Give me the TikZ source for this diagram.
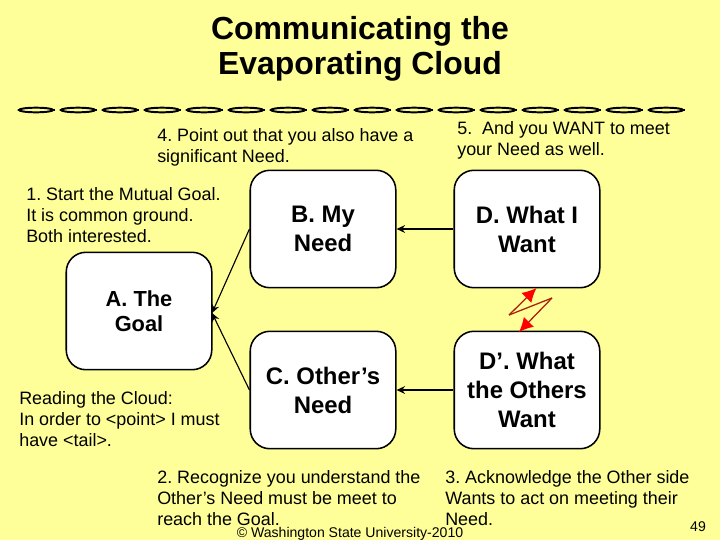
\documentclass[tikz,border=0pt]{standalone}
\usepackage{fontspec}
\setmainfont{Liberation Sans}
\usetikzlibrary{arrows.meta}
\definecolor{slidebg}{RGB}{255,255,153}
\definecolor{boltred}{RGB}{255,0,0}
\definecolor{boltline}{RGB}{170,30,10}
\tikzset{
    notetext/.style={anchor=north west, align=left, inner sep=0pt, font=\fontsize{12.75}{15}\selectfont\frenchspacing},
    stepbox/.style={draw, line width=1.1pt, fill=white, rounded corners=14pt, minimum width=103.5pt, minimum height=83.5pt,
        align=center, inner sep=0pt, font=\fontsize{17}{20.6}\selectfont\bfseries\frenchspacing},
    linkarrow/.style={-{Stealth[length=6pt,width=5.5pt]}, line width=0.8pt},
    boltarrow/.style={-{Latex[length=10pt,width=10pt,color=boltred]}, boltline, line width=0.9pt}
}
\begin{document}
\begin{tikzpicture}[x=0.025cm, y=-0.025cm]
    \fill[slidebg] (0,0) rectangle (720,540);
    \useasboundingbox (0,0) rectangle (720,540);

    % Title
    \node[align=center, inner sep=0pt, font=\fontsize{22.7}{25}\selectfont\bfseries] (title) at (360,49)
        {Communicating the\\Evaporating Cloud};

    % Chain rule under the title
    \foreach \i in {0,...,15} {
        \draw[line width=1.4pt] (36+42*\i,110) ellipse (17 and 2.3);
        \draw[line width=1.4pt] (18+42*\i,110) -- (22+42*\i,110) (50+42*\i,110) -- (55+42*\i,110);
        \draw[line width=0.6pt] (33+42*\i,107.3) -- (40+42*\i,107.3);
    }

    % Boxes
    \node[stepbox, font=\fontsize{15.5}{18.2}\selectfont\bfseries\frenchspacing] (goal) at (139,311) {A. The\\Goal};
    \node[stepbox] (need) at (323,229) {B. My\\Need};
    \node[stepbox] (otherneed) at (323,390) {C. Other’s\\Need};
    \node[stepbox] (want) at (527,229) {D. What I\\Want};
    \node[stepbox] (otherwant) at (527,390) {D’. What\\the Others\\Want};

    % Arrows between boxes
    \coordinate (goalin) at (212,313);
    \draw[linkarrow, line width=1pt] (want.west) -- (need.east);
    \draw[linkarrow, line width=1pt] (otherwant.west) -- (otherneed.east);
    \draw[linkarrow] (need.west) -- (goalin);
    \draw[linkarrow] (otherneed.west) -- (goalin);

    % Conflict bolt
    \coordinate (bolttop) at (536.5,288);
    \coordinate (boltleft) at (509,315);
    \coordinate (boltright) at (552,298);
    \coordinate (boltbottom) at (519,332);
    \draw[boltline, line width=0.9pt] (boltleft) -- (boltright);
    \draw[boltarrow] (boltleft) -- (bolttop);
    \draw[boltarrow] (boltright) -- (boltbottom);

    % Notes
    \node[notetext] (note1) at (26,187) {1. Start the Mutual Goal.\\It is common ground.\\Both interested.};
    \node[notetext] (note4) at (157,128) {4. Point out that you also have a\\significant Need.};
    \node[notetext] (note5) at (457,121) {5.~\ And you WANT to meet\\your Need as well.};
    \node[notetext] (read) at (19,391) {Reading the Cloud:\\In order to <point> I must\\have <tail>.};
    \node[notetext] (note2) at (157,470) {2. Recognize you understand the\\Other’s Need must be meet to\\reach the Goal.};
    \node[notetext] (note3) at (445,470) {3. Acknowledge the Other side\\Wants to act on meeting their\\Need.};

    % Footer
    \node[inner sep=0pt, font=\fontsize{10}{12}\selectfont] (footer) at (350,534) {© Washington State University-2010};
    \node[inner sep=0pt, font=\fontsize{10}{11}\selectfont] (pagenum) at (698,527) {49};
\end{tikzpicture}
\end{document}
